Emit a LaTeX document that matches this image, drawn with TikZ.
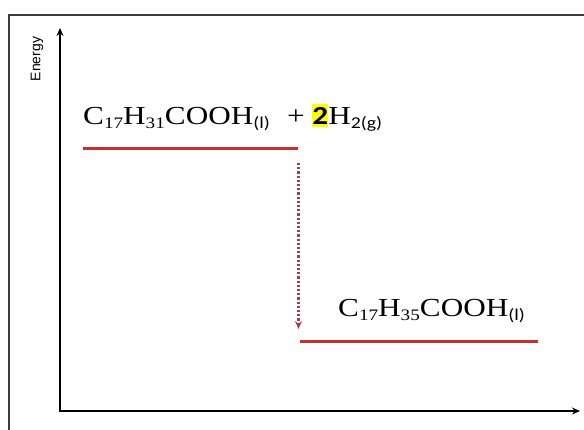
\documentclass[tikz,border=0pt]{standalone}
\usepackage{fontspec}
\setmainfont{Liberation Serif}
\setsansfont{Liberation Sans}
\newfontfamily\calib{Carlito}
\usetikzlibrary{arrows.meta}
\definecolor{lvlred}{HTML}{C4302E}
\definecolor{arrred}{HTML}{A23E52}
\definecolor{framegray}{HTML}{3C3C3C}
\definecolor{hl}{HTML}{FFFF00}
\newcommand{\sbn}[1]{\raisebox{-0.35ex}{\fontsize{16}{16}\selectfont #1}}
\newcommand{\sbc}[1]{\raisebox{-0.35ex}{\calib\fontsize{16.5}{16}\selectfont #1}}
\newcommand{\eqtxt}[1]{\scalebox{1.2}[1]{\fontsize{26}{26}\selectfont #1}}
\tikzset{
  level/.style={draw=lvlred, line width=3pt},
  axis/.style={draw=black, line width=1.5pt, -{Stealth[length=8pt,width=7pt]}},
  dropar/.style={draw=arrred, line width=2.6pt, dash pattern=on 2.2pt off 2pt, -{Stealth[length=8pt,width=7pt]}},
  lbl/.style={inner sep=0pt, anchor=base west}
}
\begin{document}
\begin{tikzpicture}[x=1pt,y=-1pt]
\useasboundingbox (0,0) rectangle (584,429);
\fill[white] (0,0) rectangle (584,429);
% frame
\draw[framegray, line width=2pt] (9,432) -- (9,15) -- (590,15);
% axes
\coordinate (O) at (60,411);
\coordinate (ytop) at (60,28);
\coordinate (xend) at (580,411);
\draw[axis] (O) -- (ytop);
\draw[axis] ([xshift=-0.75pt]O) -- (xend);
\node[font=\sffamily\fontsize{14}{14}\selectfont, rotate=90, inner sep=0pt] (energy) at (37,59) {Energy};
% levels
\coordinate (u1) at (83,148);
\coordinate (u2) at (298,148);
\coordinate (l1) at (300,341);
\coordinate (l2) at (538,341);
\draw[level] (u1) -- (u2);
\draw[level] (l1) -- (l2);
\coordinate (as) at (298.5,163);
\coordinate (ae) at (298.5,329);
\draw[dropar] (as) -- (ae);
% labels
\node[lbl] (react) at (83,124) {\eqtxt{C\sbn{17}H\sbn{31}COOH\sbc{(l)}\hspace{0.55em}+ {\calib\bfseries\colorbox{hl}{\hspace{-3pt}\vphantom{H}2\hspace{-3pt}}}H\sbc{2(g)}}};
\node[lbl] (prod) at (338,316) {\eqtxt{C\sbn{17}H\sbn{35}COOH\sbc{(l)}}};
\end{tikzpicture}
\end{document}
